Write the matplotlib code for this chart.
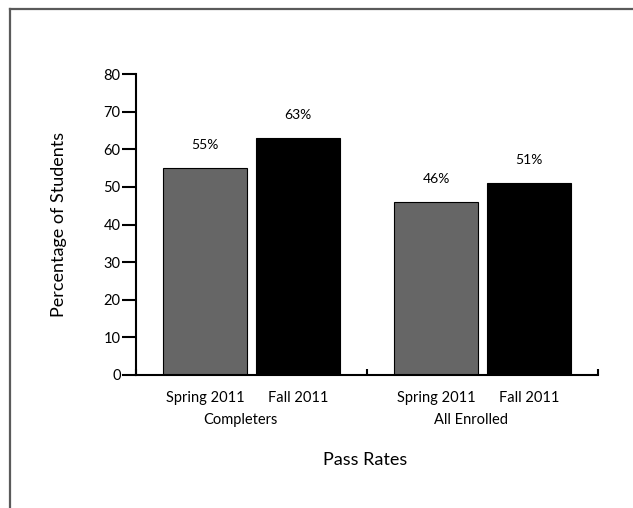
import matplotlib
matplotlib.use("Agg")
import matplotlib.pyplot as plt
from matplotlib.lines import Line2D
import numpy as np

# dados
groups = ["Completers", "All Enrolled"]
terms = ["Spring 2011", "Fall 2011"]
spring = [55, 46]
fall = [63, 51]
yticks = [0, 10, 20, 30, 40, 50, 60, 70, 80]

plt.rcParams["font.family"] = ["Lato", "DejaVu Sans"]

fig = plt.figure(figsize=(6.33, 5.08), dpi=100)
ax = fig.add_axes([136 / 633, 1 - 375 / 508, 462 / 633, 301 / 508])

# moldura cinza (topo e esquerda)
fig.add_artist(Line2D([10 / 633, 1.0], [1 - 9 / 508, 1 - 9 / 508], color="#5a5a5a", lw=1.6, transform=fig.transFigure))
fig.add_artist(Line2D([10 / 633, 10 / 633], [0.0, 1 - 9 / 508], color="#5a5a5a", lw=1.6, transform=fig.transFigure))

g = np.arange(len(groups))
w = 0.364
b1 = ax.bar(g + 0.3, spring, w, color="#666666", edgecolor="black", linewidth=0.8)
b2 = ax.bar(g + 0.7, fall, w, color="black", edgecolor="black", linewidth=0.8)

for bars, vals in [(b1, spring), (b2, fall)]:
    for r, v in zip(bars, vals):
        ax.annotate(f"{v}%", (r.get_x() + r.get_width() / 2, v), xytext=(0, 12),
                    textcoords="offset points", ha="center", va="bottom", fontsize=10)

ax.set_xlim(0, 2)
ax.set_ylim(0, 80)
ax.set_yticks(yticks)
ax.tick_params(axis="y", direction="out", length=10, width=1.5, pad=1, labelsize=10.5)
ax.set_xticks([0, 1, 2])
ax.set_xticklabels([])
ax.tick_params(axis="x", direction="in", length=4, width=1.5)

for s in ["top", "right"]:
    ax.spines[s].set_visible(False)
for s in ["left", "bottom"]:
    ax.spines[s].set_linewidth(1.5)

# rótulos das barras e grupos
for i in g:
    ax.text(i + 0.3, -6, terms[0], ha="center", va="center", fontsize=10.5)
    ax.text(i + 0.7, -6, terms[1], ha="center", va="center", fontsize=10.5)
    ax.text(i + 0.45, -12, groups[i], ha="center", va="center", fontsize=10.5)

ax.text(0.99, -22.5, "Pass Rates", ha="center", va="center", fontsize=13)
ax.set_ylabel("Percentage of Students", fontsize=13, labelpad=26)

fig.savefig("out.png", dpi=100)
